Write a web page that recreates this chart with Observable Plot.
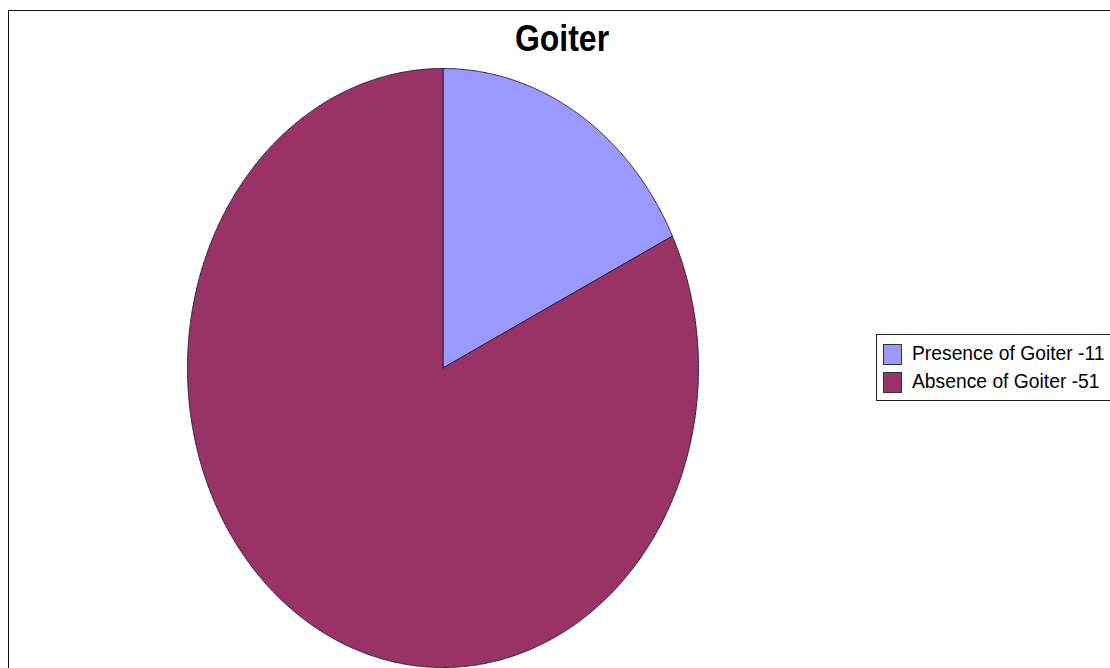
<!DOCTYPE html>
<html><head><meta charset="utf-8">
<script src="https://cdn.jsdelivr.net/npm/d3@7"></script>
<script src="https://cdn.jsdelivr.net/npm/@observablehq/plot@0.6"></script>
<style>
html,body{margin:0;padding:0;overflow:hidden;background:#fff;width:1110px;height:668px;font-family:"Liberation Sans",Arial,sans-serif}
#frame{position:absolute;left:8px;top:10px;width:1400px;height:900px;border:1px solid #111;box-sizing:border-box}
#title{position:absolute;left:562px;top:20px;transform:translateX(-50%) scaleY(1.15);transform-origin:50% 50%;font-weight:bold;font-size:32px;color:#000;white-space:nowrap;line-height:36px}
#chart{position:absolute;left:0;top:62px}
#legend{position:absolute;left:876px;top:334px;width:300px;height:67px;border:1px solid #222;box-sizing:border-box;background:#fff}
.row{position:absolute;left:6px;height:22px;display:flex;align-items:center}
.sw{width:19px;height:21px;border:1px solid #333;box-sizing:border-box;margin-right:10px}
.lab{font-size:19.3px;color:#000;white-space:nowrap;transform:scaleY(1.0)}
</style>
</head><body>
<div id="frame"></div>
<div id="title">Goiter</div>
<div id="chart"></div>
<div id="legend"></div>
<script>
const title = "Goiter";
const categories = ["Presence of Goiter", "Absence of Goiter"];
const counts = [11, 51];
const colors = ["#9999FF", "#993366"];
const legendLabels = ["Presence of Goiter -11", "Absence of Goiter -51"];

const rows = categories.map((c, i) => ({cat: c, value: counts[i]}));
const arcs = d3.pie().sort(null).value(d => d.value)(rows);
const step = Math.PI / 720;
const pts = [];
for (const a of arcs) {
  const cat = a.data.cat;
  pts.push({cat, x: 0, y: 0});
  const n = Math.max(2, Math.ceil((a.endAngle - a.startAngle) / step));
  for (let k = 0; k <= n; k++) {
    const t = a.startAngle + (a.endAngle - a.startAngle) * k / n;
    pts.push({cat, x: Math.sin(t), y: Math.cos(t)});
  }
  pts.push({cat, x: 0, y: 0});
}

const chart = Plot.plot({
  width: 1110,
  height: 606,
  marginLeft: 187,
  marginRight: 412,
  marginTop: 6,
  marginBottom: 1,
  x: {axis: null, domain: [-1, 1]},
  y: {axis: null, domain: [-1, 1]},
  color: {domain: categories, range: colors},
  marks: [
    Plot.line(pts, {x: "x", y: "y", z: "cat", fill: "cat", stroke: "#2b2340", strokeWidth: 1, strokeLinejoin: "round", curve: "linear"})
  ]
});
document.getElementById("chart").appendChild(chart);

const lg = document.getElementById("legend");
legendLabels.forEach((l, i) => {
  const r = document.createElement("div");
  r.className = "row";
  r.style.top = (8 + i * 28) + "px";
  r.innerHTML = `<div class="sw" style="background:${colors[i]}"></div><div class="lab">${l}</div>`;
  lg.appendChild(r);
});
</script>
</body></html>
